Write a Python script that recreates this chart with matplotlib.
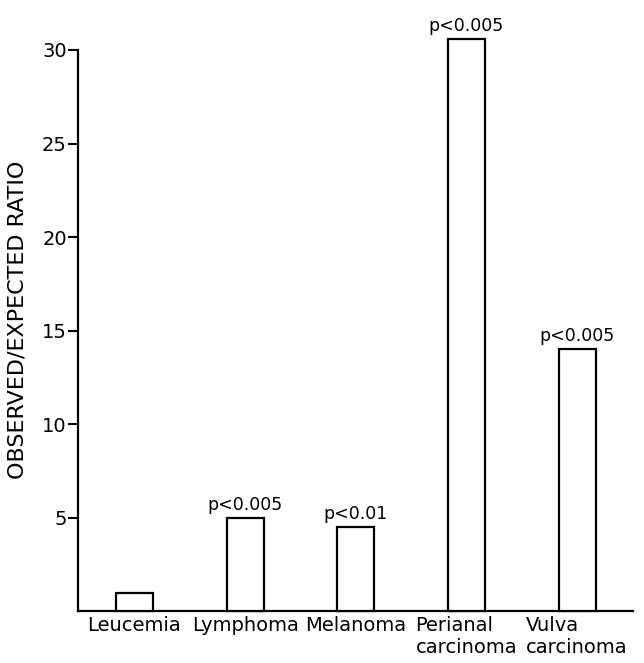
import matplotlib
matplotlib.use("Agg")
import matplotlib.pyplot as plt

categories = ["Leucemia", "Lymphoma", "Melanoma", "Perianal\ncarcinoma", "Vulva\ncarcinoma"]
ratios = [1.0, 5.0, 4.5, 30.6, 14.0]
pvalues = ["", "p<0.005", "p<0.01", "p<0.005", "p<0.005"]
yticks = [5, 10, 15, 20, 25, 30]

plt.rcParams['font.family'] = ['DejaVu Sans']

fig = plt.figure(figsize=(6.44, 6.63), dpi=100)
ax = fig.add_axes([0.121, 0.0777, 0.862, 0.847])

x = list(range(len(categories)))
bars = ax.bar(x, ratios, width=0.335, facecolor="white", edgecolor="black",
              linewidth=1.6, clip_on=False, zorder=3)

for xi, val, p in zip(x, ratios, pvalues):
    if p:
        ax.annotate(p, (xi, val), xytext=(0, 3), textcoords="offset points",
                    ha="center", va="bottom", fontsize=12.5,
                    annotation_clip=False)

ax.set_xlim(-0.511, 4.506)
ax.set_ylim(0, 30)
ax.set_yticks(yticks)
ax.set_yticklabels([str(t) for t in yticks], fontsize=14)
ax.set_xticks(x)
ax.set_xticklabels(categories, fontsize=14, multialignment="left")
ax.tick_params(axis="x", length=0, pad=3)
ax.tick_params(axis="y", length=7, width=1.5, pad=1, direction="out")

for s in ["top", "right"]:
    ax.spines[s].set_visible(False)
for s in ["left", "bottom"]:
    ax.spines[s].set_linewidth(1.6)

ax.set_ylabel("OBSERVED/EXPECTED RATIO", fontsize=16)
ax.yaxis.set_label_coords(-0.09, 0.52)

fig.savefig("out.png", dpi=100, facecolor="white")
